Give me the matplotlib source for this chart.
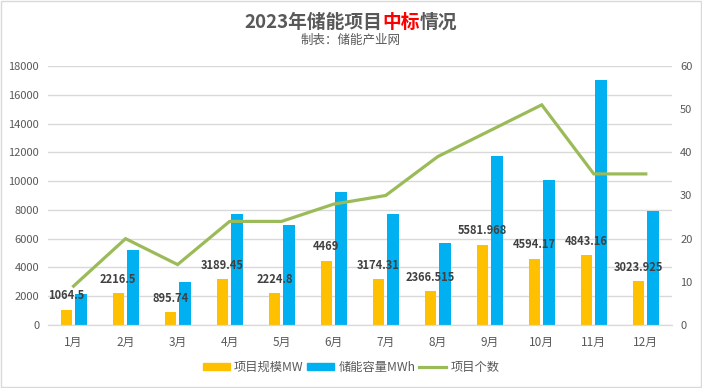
import matplotlib
matplotlib.use("Agg")
import matplotlib.pyplot as plt
from matplotlib.patches import Patch, Rectangle
from matplotlib.lines import Line2D
import numpy as np

plt.rcParams['font.family'] = ['Noto Sans CJK SC', 'DejaVu Sans']

months = ["1月", "2月", "3月", "4月", "5月", "6月", "7月", "8月", "9月", "10月", "11月", "12月"]
scale_mw = [1064.5, 2216.5, 895.74, 3189.45, 2224.8, 4469, 3174.31, 2366.515, 5581.968, 4594.17, 4843.16, 3023.925]
scale_labels = ["1064.5", "2216.5", "895.74", "3189.45", "2224.8", "4469", "3174.31", "2366.515",
                "5581.968", "4594.17", "4843.16", "3023.925"]
capacity_mwh = [2150, 5200, 3000, 7700, 6950, 9250, 7700, 5700, 11750, 10070, 17000, 7920]
project_count = [9, 20, 14, 24, 24, 28, 30, 39, 45, 51, 35, 35]

gray = '#595959'
grid_c = '#D9D9D9'
yellow = '#FFC000'
blue = '#00B0F0'
green = '#9BBB59'

fig = plt.figure(figsize=(7.02, 3.88), dpi=100)
ax = fig.add_axes([0.0677, 0.1624, 0.957 - 0.0677, 0.8299 - 0.1624])
ax2 = ax.twinx()

x = np.arange(len(months))
w = 0.22
ax.bar(x - 0.14, scale_mw, w, color=yellow, zorder=2)
ax.bar(x + 0.14, capacity_mwh, w, color=blue, zorder=2)
ax2.plot(x, project_count, color=green, lw=2.3, solid_joinstyle='miter', zorder=3)

ax.set_xlim(-0.5, len(months) - 0.5)
ax.set_ylim(0, 18000)
ax.set_yticks(range(0, 18001, 2000))
ax2.set_ylim(0, 60)
ax2.set_yticks(range(0, 61, 10))
ax.set_xticks(x)
ax.set_xticklabels(months)

ax.yaxis.grid(True, color=grid_c, lw=1, zorder=0)
ax.set_axisbelow(True)
for a in (ax, ax2):
    for s in ('top', 'left', 'right'):
        a.spines[s].set_visible(False)
    a.spines['bottom'].set_color(grid_c)
    a.tick_params(length=0, colors=gray, labelsize=8)
ax.tick_params(axis='x', pad=8, labelsize=8.5)
ax.tick_params(axis='y', pad=6)
ax2.tick_params(axis='y', pad=6)

# data labels on the yellow bars
for xi, v, lab in zip(x, scale_mw, scale_labels):
    ax2.annotate(lab, xy=(xi - 0.14, v), xycoords=ax.transData, xytext=(0, 10),
                 textcoords='offset points', ha='center', va='center',
                 fontsize=8, fontweight='bold', color='#404040', zorder=5)

# title with red part
fig.canvas.draw()
r = fig.canvas.get_renderer()
parts = [("2023年储能项目", gray), ("中标", '#FF0000'), ("情况", gray)]
texts = [fig.text(0, 0.943, p, fontsize=13.5, fontweight='bold', color=c, va='center') for p, c in parts]
widths = [t.get_window_extent(r).width for t in texts]
x0 = (702 - sum(widths)) / 2
for t, wd in zip(texts, widths):
    t.set_x(x0 / 702)
    x0 += wd
fig.text(0.5, 0.895, "制表：储能产业网", fontsize=9, color=gray, ha='center', va='center')

handles = [Patch(color=yellow), Patch(color=blue), Line2D([], [], color=green, lw=2.3)]
fig.legend(handles, ["项目规模MW", "储能容量MWh", "项目个数"], loc='center',
           bbox_to_anchor=(0.5, 0.054), ncol=3, frameon=False, fontsize=8.8,
           labelcolor=gray, handlelength=2.2, handleheight=0.5, handletextpad=0.35,
           columnspacing=0.3)

fig.patches.append(Rectangle((0.001, 0.002), 0.997, 0.995, transform=fig.transFigure,
                             fill=False, edgecolor=grid_c, lw=1))

fig.savefig("out.png", dpi=100)
